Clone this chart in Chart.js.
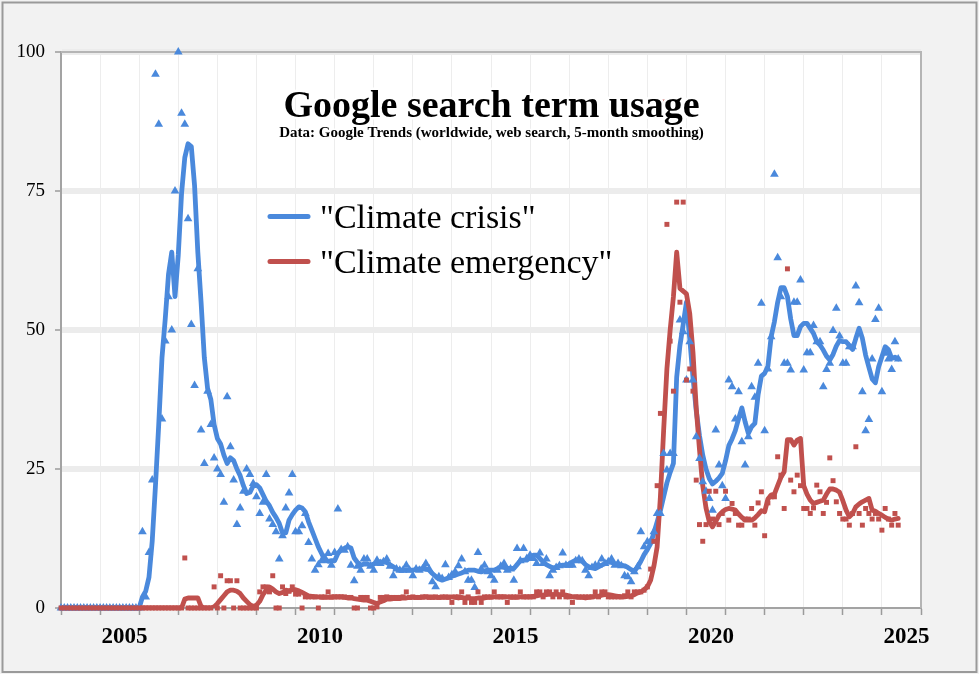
<!DOCTYPE html>
<html lang="en">
<head>
    <meta charset="UTF-8">
    <title>Google search term usage</title>
    <script src="https://cdn.jsdelivr.net/npm/chart.js"></script>
    <style>
        html, body {
            margin: 0;
            padding: 0;
            background-color: #f2f2f2;
        }

        #wrap {
            width: 979px;
            height: 674px;
            position: relative;
        }
    </style>
</head>
<body>
    <div id="wrap"><canvas id="trendChart"></canvas></div>

    <script>
        // monthly values, Jan 2004 onwards (one row per year)
        const firstYear = 2004;
        const lastYear = 2026;
        const yTicks = [0, 25, 50, 75, 100];
        const yearLabels = [2005, 2010, 2015, 2020, 2025];
        const seriesNames = ['"Climate crisis"', '"Climate emergency"'];
        const chartTitle = 'Google search term usage';
        const chartSubtitle = 'Data: Google Trends (worldwide, web search, 5-month smoothing)';

        const crisisRaw = [
            0, 0, 0, 0, 0, 0, 0, 0, 0, 0, 0, 0,
            0, 0, 0, 0, 0, 0, 0, 0, 0, 0, 0, 0,
            0, 13.7, 2, 10, 23, 96, 87, 34, 48, 56, 50, 75,
            100, 89, 87, 70, 51, 40, 61, 32, 26, 39, 33, 27,
            25, 24, 19, 38, 29, 23, 15, 18, 21, 25, 24, 22.4,
            20, 17, 19, 24, 16, 15, 13.7, 8.8, 13, 18, 20.7, 24,
            13.7, 13.7, 14.8, 17, 11.8, 8.8, 6.8, 7.8, 8.5, 9, 9.8, 7.7,
            10, 17.8, 10.5, 10.4, 11, 7.7, 4.9, 7.5, 6.8, 8.8, 8.8, 7.5,
            6.8, 8.6, 8, 8.3, 8.8, 7.5, 5.8, 7, 6.8, 6.8, 7.7, 6.8,
            5.8, 7, 6.8, 7, 8, 7, 4.7, 3.8, 5.6, 5.3, 7.8, 5.5,
            6, 6.5, 7.6, 8.8, 6.5, 5, 5, 3.7, 10, 7, 7.7, 6.5,
            5.8, 5, 6.8, 7.5, 8, 6.8, 7, 5, 10.7, 8.5, 10.7, 8.9,
            9.5, 8.9, 8, 9.9, 8, 8.8, 5.8, 6.8, 7.3, 7.6, 9.9, 7.7,
            7.7, 7.7, 8.5, 8.8, 8.5, 6.8, 5.8, 7.3, 7.7, 7.7, 8.8, 8,
            8.3, 8.8, 7.7, 8, 7.6, 5.8, 5.6, 4.7, 6.5, 7.4, 13.7, 11,
            11.9, 12, 13.7, 17, 17, 27.8, 24.8, 27.8, 27.8, 88, 51.8, 49.7,
            41, 47.9, 41, 30.8, 26.9, 22.7, 21, 19.7, 17.6, 32, 25.7, 22,
            19.7, 41, 39.8, 34, 38.9, 29.9, 25.7, 30.8, 39.8, 37.9, 44, 54.8,
            31.9, 43, 48.8, 78, 63, 56, 44, 44, 42.8, 55, 55, 59,
            42.8, 45.9, 45.9, 50.8, 47.9, 47.9, 39.8, 42.9, 44, 49.9, 53.9, 48.9,
            44, 44, 47, 47, 57.9, 54.9, 38.9, 31.9, 33.9, 44.8, 51.9, 53.9,
            38.9, 45.8, 44.8, 42.9, 47.9, 44.8
        ];

        const crisisSmooth = [
            0, 0, 0, 0, 0, 0, 0, 0, 0, 0, 0, 0,
            0, 0, 0, 0, 0, 0, 0, 0, 0, 0, 0, 0,
            0, 2, 3, 5.5, 12, 22, 33, 45, 52, 60, 64, 56,
            63.5, 74.5, 81, 83.5, 83, 76, 64, 55, 45, 39.5, 37.5, 33,
            30.5, 29.5, 27.5, 26, 27, 26.5, 25, 23.8, 22, 20.6, 20.8, 22,
            22.2, 21.6, 20.4, 19.2, 18.4, 17.2, 16.3, 15.2, 13.5, 13.5, 15.8, 16.8,
            17.6, 18.2, 18, 17.3, 15.5, 14, 12.5, 11, 9.8, 8.6, 8.4, 8.5,
            8.5, 9.8, 10.5, 10.7, 11, 10.8, 9, 8.2, 7.7, 7.9, 7.9, 7.7,
            7.9, 8.1, 8.3, 8.3, 8.2, 7.8, 7.4, 7, 6.8, 6.8, 6.8, 6.8,
            6.8, 6.9, 7, 7.1, 7.1, 6.8, 6.2, 5.7, 5.2, 5, 5.2, 5.4,
            5.7, 5.9, 6.1, 6.3, 6.6, 6.8, 6.8, 6.8, 6.6, 6.5, 6.7, 6.8,
            6.8, 6.8, 7.1, 7.4, 7.3, 7.1, 7.1, 7.1, 7.8, 8.5, 8.6, 8.6,
            9.1, 9.5, 9.5, 8.9, 8.3, 7.8, 7.5, 7.2, 7.3, 7.6, 7.7, 7.7,
            7.9, 8.3, 8.6, 8.6, 8.4, 7.8, 7.4, 7.2, 7.1, 7.4, 7.7, 8,
            8.3, 8.2, 8, 7.9, 7.7, 7.6, 7.3, 6.9, 6.6, 7.4, 8.4, 9.6,
            10.5, 11.6, 13.5, 15.5, 17.5, 20, 22.5, 24.4, 26, 41.5, 47.2, 51,
            55, 48.5, 41.5, 35.5, 31, 27.5, 25, 23.3, 22.3, 22.8, 23.4, 24.2,
            26.5, 29.2, 30.4, 31.9, 34, 36, 33.5, 31.4, 32.6, 33.2, 38.4, 41.7,
            42.2, 43.5, 48.8, 51.5, 55, 57.6, 57.6, 56, 52, 49, 49, 50.6,
            51.2, 51.2, 50.3, 49.4, 47.9, 47.3, 46.4, 45.3, 44.6, 45.6, 47.1, 48.1,
            47.9, 47.9, 47.2, 46.5, 48.5, 50.3, 48.5, 45.5, 43.3, 41.2, 40.5, 43.4,
            45.2, 47, 46.5, 44.9, 45.1, 44.8
        ];

        const emergencyRaw = [
            0, 0, 0, 0, 0, 0, 0, 0, 0, 0, 0, 0,
            0, 0, 0, 0, 0, 0, 0, 0, 0, 0, 0, 0,
            0, 0, 0, 0, 0, 0, 0, 0, 0, 0, 0, 0,
            0, 0, 9, 0, 0, 0, 0, 0, 0, 0, 0, 3.8,
            0, 5.8, 0, 4.9, 4.9, 0, 4.9, 0, 0, 0, 0, 0,
            0, 2.9, 3.8, 3.8, 2.9, 5.8, 0, 0, 3.8, 2.6, 3, 3.8,
            2.5, 2.5, 0, 2, 2, 2, 2, 0, 2, 2, 2.9, 2,
            2, 2, 2, 2, 1.9, 1.9, 0, 0, 1.9, 1.9, 1.9, 0,
            0, 0.2, 1.9, 1.9, 2, 1.9, 1.9, 1.9, 1.9, 2, 2.9, 1.9,
            2, 1.9, 1.9, 2, 2, 1.9, 1.9, 2, 1.9, 2, 2, 1.9,
            1, 2, 2, 2.9, 1, 2, 1, 1, 2.9, 1, 2, 2,
            2, 2.9, 2, 2, 2, 1, 2, 2, 2, 2.9, 2, 2,
            2, 2, 2.9, 2.9, 2, 2.9, 2.9, 2, 2.9, 2, 2.9, 2,
            2, 1, 2, 2, 2, 2, 2, 2, 2.9, 2, 2.9, 2.9,
            2, 2, 2, 2, 2, 2.2, 2.9, 2, 2.9, 2.9, 2.9, 3.2,
            3.8, 7, 12, 22, 35, 91, 69, 48, 39, 73, 55, 73,
            41, 43, 39, 23, 15, 12, 15, 21, 16, 21, 15, 17,
            21, 15.8, 18.8, 17, 14.9, 14.9, 16, 16, 17.9, 14.9, 18.9, 20.9,
            13, 18.9, 20, 20, 27.2, 23.9, 17.9, 61, 23, 20.9, 23.9, 22,
            17.9, 17.9, 17, 18, 22.1, 20.9, 17, 19, 27, 22.9, 19.1, 17,
            16, 16, 14.9, 17, 29, 17, 14.9, 17.9, 17, 16, 17, 16,
            14, 17.9, 16, 14.9, 17, 14.9
        ];

        const emergencySmooth = [
            0, 0, 0, 0, 0, 0, 0, 0, 0, 0, 0, 0,
            0, 0, 0, 0, 0, 0, 0, 0, 0, 0, 0, 0,
            0, 0, 0, 0, 0, 0, 0, 0, 0, 0, 0, 0,
            0, 0, 1.6, 1.8, 1.8, 1.8, 1.8, 0.3, 0, 0, 0, 0.2,
            0.8, 1.5, 2.2, 2.9, 3.2, 3.2, 3, 2.6, 1.8, 1.2, 0.6, 0.3,
            0.5, 1.2, 2.4, 3.2, 3.8, 3.4, 2.9, 2.6, 2.8, 3.2, 3.1, 3.3,
            3.3, 3.1, 2.8, 2.5, 2.2, 2.1, 2, 2, 1.9, 1.9, 1.9, 1.9,
            2, 2, 2, 1.9, 1.8, 1.8, 1.7, 1.6, 1.5, 1.4, 1.4, 1.2,
            1, 0.8, 1.1, 1.3, 1.6, 1.6, 1.7, 1.7, 1.7, 1.8, 1.8, 1.9,
            1.9, 1.9, 1.9, 1.9, 2, 2, 2, 1.9, 1.9, 1.9, 1.9, 2,
            2, 1.9, 1.8, 1.9, 1.8, 1.8, 1.7, 1.7, 1.8, 1.8, 1.8, 1.9,
            1.9, 2, 2, 2, 2, 2, 1.9, 1.9, 1.9, 2, 2, 2,
            2, 2.1, 2.2, 2.3, 2.3, 2.4, 2.5, 2.4, 2.5, 2.4, 2.4, 2.3,
            2.2, 2, 2, 1.9, 1.9, 1.8, 1.9, 2, 2.1, 2.1, 2.3, 2.4,
            2.4, 2.3, 2.2, 2.1, 2, 2, 2.1, 2.2, 2.4, 2.7, 2.9, 3.3,
            3.8, 5, 7.5, 11, 20, 32, 43, 50, 56, 64, 57.5, 57,
            56.5, 53, 46, 36, 28.5, 22, 18, 15.5, 14.6, 15.6, 16.7, 17.3,
            17.7, 17.9, 17.8, 17.6, 16.9, 16.3, 15.8, 15.8, 15.8, 16.2, 16.8, 17.5,
            17.3, 19.6, 20.3, 20.5, 22, 23.5, 24.5, 30.3, 30.3, 29.3, 30.2, 30.5,
            22, 20.5, 19.4, 18.8, 19, 19.2, 19.4, 20.5, 21.4, 21.4, 21.2, 20.8,
            19.3, 17.6, 16.4, 17, 18.2, 18.7, 19.1, 19.4, 19.7, 17.6, 17.4, 17,
            16.7, 16.3, 16, 15.8, 16, 16.1
        ];

        const blue = '#4a89dc';
        const red = '#c0504d';
        const serif = "'Liberation Serif', 'Times New Roman', serif";

        // month index -> decimal year
        function toPoints(values) {
            return values.map((v, i) => ({ x: firstYear + i / 12, y: v }));
        }

        const yearTicks = [];
        for (let yr = firstYear; yr <= lastYear; yr++) yearTicks.push(yr);

        // background, frame, title and legend drawn inside the plot area
        const decorations = {
            id: 'decorations',
            beforeDraw(chart) {
                const { ctx, chartArea: a, width, height } = chart;
                ctx.save();
                ctx.fillStyle = '#f2f2f2';
                ctx.fillRect(0, 0, width, height);
                ctx.fillStyle = '#ffffff';
                ctx.fillRect(a.left, a.top, a.right - a.left, a.bottom - a.top);
                ctx.strokeStyle = '#9a9a9a';
                ctx.lineWidth = 2;
                ctx.strokeRect(2.5, 2.5, width - 5, height - 4.5);
                ctx.restore();
            },
            beforeDatasetsDraw(chart) {
                const { ctx, chartArea: a } = chart;
                ctx.save();
                ctx.strokeStyle = '#b5b5b5';
                ctx.lineWidth = 2;
                ctx.beginPath();
                ctx.moveTo(a.left, a.top);
                ctx.lineTo(a.right, a.top);
                ctx.lineTo(a.right, a.bottom);
                ctx.stroke();
                ctx.restore();
            },
            afterDatasetsDraw(chart) {
                const { ctx } = chart;
                ctx.save();
                ctx.textAlign = 'center';
                ctx.textBaseline = 'alphabetic';
                ctx.lineJoin = 'round';
                ctx.strokeStyle = '#ffffff';
                ctx.fillStyle = '#000000';

                ctx.font = 'bold 38px ' + serif;
                ctx.lineWidth = 5;
                ctx.strokeText(chartTitle, 491.5, 117);
                ctx.fillText(chartTitle, 491.5, 117);

                ctx.font = 'bold 15px ' + serif;
                ctx.lineWidth = 3;
                ctx.strokeText(chartSubtitle, 491.5, 137);
                ctx.fillText(chartSubtitle, 491.5, 137);

                // legend
                const rows = [
                    { text: seriesNames[0], color: blue, y: 216.5 },
                    { text: seriesNames[1], color: red, y: 261.5 }
                ];
                ctx.textAlign = 'left';
                ctx.font = '34px ' + serif;
                rows.forEach(r => {
                    ctx.strokeStyle = r.color;
                    ctx.lineWidth = 5;
                    ctx.lineCap = 'round';
                    ctx.beginPath();
                    ctx.moveTo(270, r.y);
                    ctx.lineTo(308, r.y);
                    ctx.stroke();
                    ctx.fillText(r.text, 320, r.y + 11.5);
                });
                ctx.restore();
            }
        };

        new Chart(document.getElementById('trendChart'), {
            type: 'scatter',
            data: {
                datasets: [
                    {
                        label: seriesNames[1] + ' (monthly)',
                        data: toPoints(emergencyRaw),
                        pointStyle: 'rect',
                        pointRadius: 3.5,
                        backgroundColor: red,
                        borderWidth: 0,
                        clip: false,
                        order: 1
                    },
                    {
                        label: seriesNames[0] + ' (monthly)',
                        data: toPoints(crisisRaw),
                        pointStyle: 'triangle',
                        pointRadius: 5,
                        backgroundColor: blue,
                        borderWidth: 0,
                        clip: false,
                        order: 2
                    },
                    {
                        type: 'line',
                        label: seriesNames[1],
                        data: toPoints(emergencySmooth),
                        borderColor: red,
                        borderWidth: 4.8,
                        borderJoinStyle: 'round',
                        borderCapStyle: 'round',
                        pointRadius: 0,
                        tension: 0,
                        fill: false,
                        order: 3
                    },
                    {
                        type: 'line',
                        label: seriesNames[0],
                        data: toPoints(crisisSmooth),
                        borderColor: blue,
                        borderWidth: 4.8,
                        borderJoinStyle: 'round',
                        borderCapStyle: 'round',
                        pointRadius: 0,
                        tension: 0,
                        fill: false,
                        order: 4
                    }
                ]
            },
            options: {
                responsive: true,
                maintainAspectRatio: false,
                animation: false,
                layout: { padding: { top: 52, right: 58, bottom: 0, left: 0 } },
                plugins: {
                    legend: { display: false },
                    tooltip: { enabled: false }
                },
                scales: {
                    x: {
                        type: 'linear',
                        min: firstYear,
                        max: lastYear,
                        afterFit: s => { s.height = 66; },
                        afterBuildTicks: s => { s.ticks = yearTicks.map(v => ({ value: v })); },
                        grid: {
                            color: '#ededed',
                            lineWidth: 1,
                            tickLength: 7,
                            tickColor: '#9b9b9b',
                            tickWidth: 1.5
                        },
                        border: { color: '#a3a3a3', width: 2 },
                        ticks: {
                            autoSkip: false,
                            maxRotation: 0,
                            labelOffset: 24.5,
                            padding: 8,
                            color: '#000',
                            font: { family: serif, size: 23, weight: 'bold' },
                            callback: v => yearLabels.includes(v) ? String(v) : ''
                        }
                    },
                    y: {
                        min: 0,
                        max: 100,
                        afterFit: s => { s.width = 61; },
                        afterBuildTicks: s => { s.ticks = yTicks.map(v => ({ value: v })); },
                        grid: {
                            color: c => (c.tick && c.tick.value === 0) ? 'rgba(0,0,0,0)' : '#ececec',
                            lineWidth: 6,
                            tickLength: 6,
                            tickColor: '#9b9b9b',
                            tickWidth: 1.5
                        },
                        border: { color: '#a3a3a3', width: 2 },
                        ticks: {
                            padding: 10,
                            color: '#000',
                            font: { family: serif, size: 19 }
                        }
                    }
                }
            },
            plugins: [decorations]
        });
    </script>
</body>
</html>
